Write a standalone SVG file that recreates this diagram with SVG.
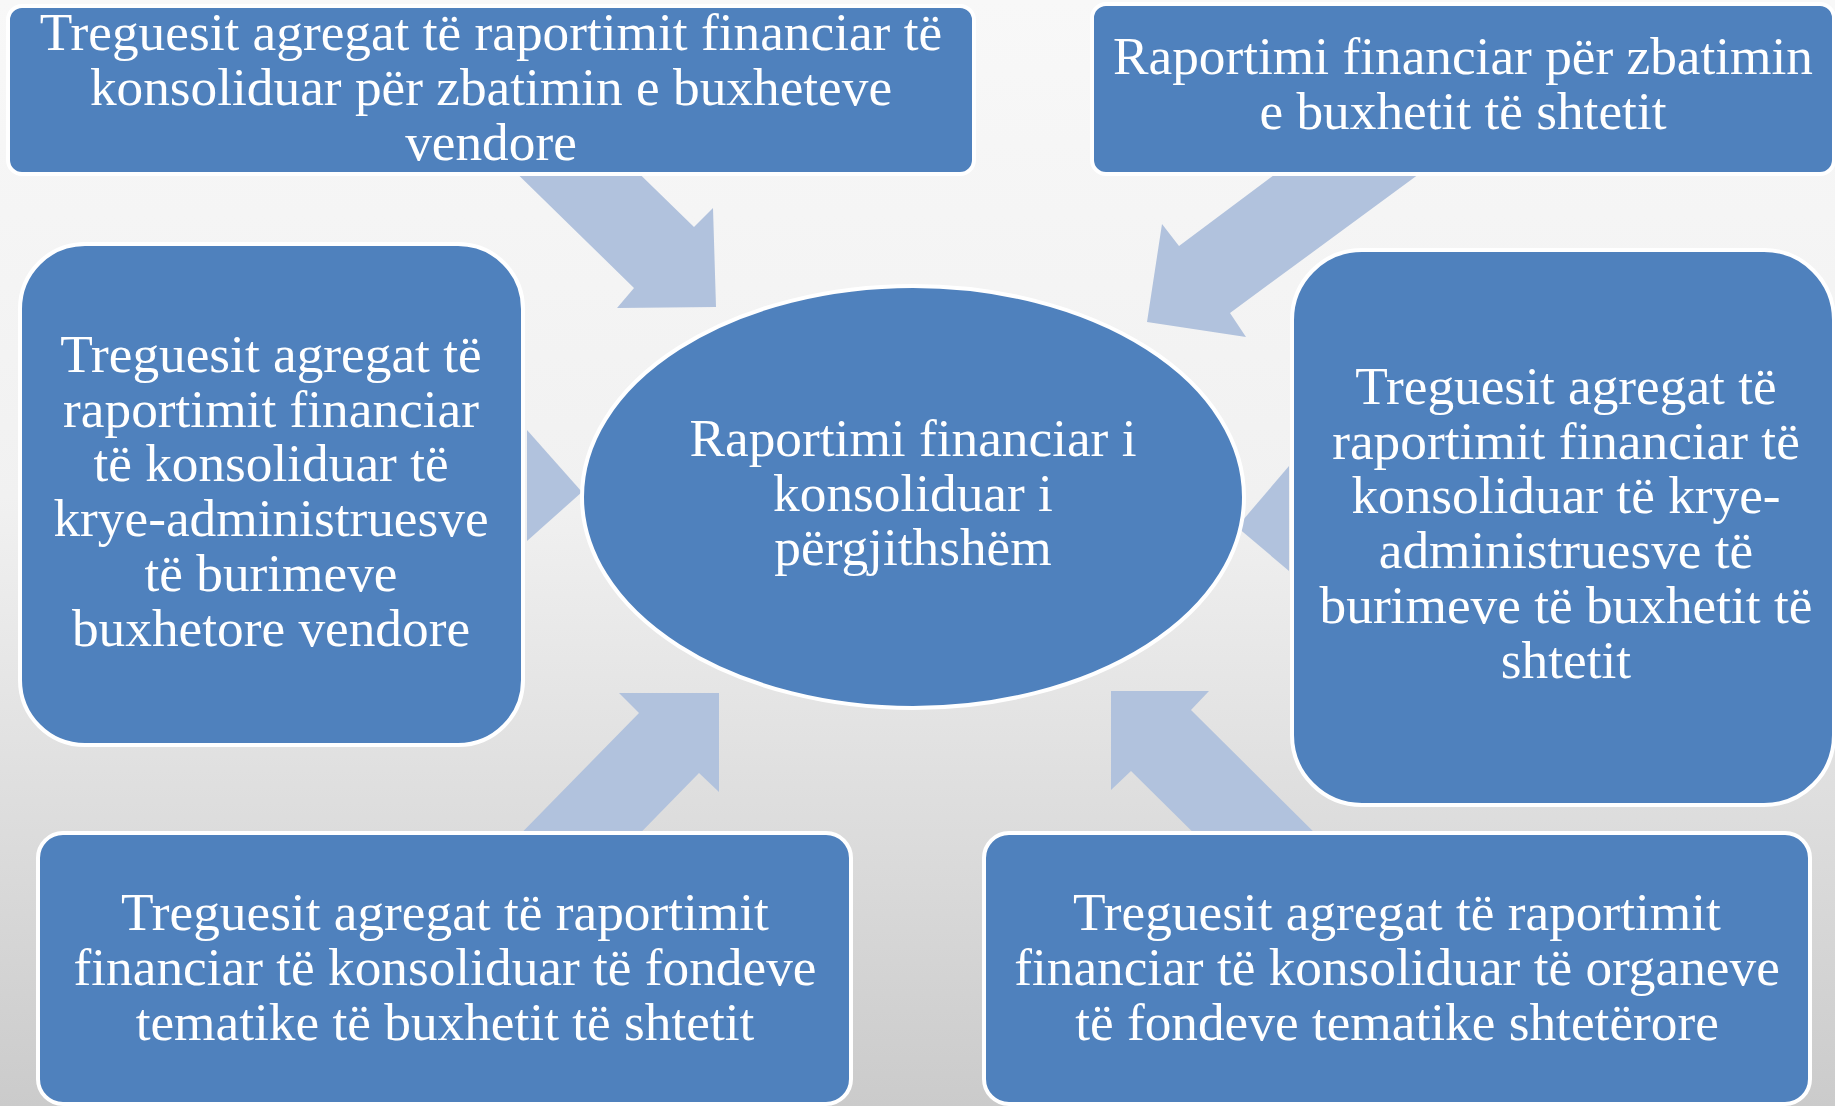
<svg xmlns="http://www.w3.org/2000/svg" width="1835" height="1106" viewBox="0 0 1835 1106">
<defs>
<linearGradient id="bg" x1="0" y1="0" x2="0" y2="1">
<stop offset="0" stop-color="#f8f8f8"/>
<stop offset="0.45" stop-color="#f1f1f1"/>
<stop offset="1" stop-color="#cbcbcb"/>
</linearGradient>
<style>
.node{fill:#4f81bd;stroke:#ffffff;stroke-width:4}
.arr{fill:#b1c2dd;stroke:none}
.t{font-family:"Liberation Serif","Times New Roman",serif;font-size:53.3px;fill:#ffffff;text-anchor:middle}
</style>
</defs>
<rect x="0" y="0" width="1835" height="1106" fill="url(#bg)"/>
<g id="connectors">
<polygon class="arr" points="493,150 615,150 694,227 713,208 716,307 617,308 634,288"/>
<polygon class="arr" points="1309,149 1453,149 1230,313 1246,337 1147,322 1162,224 1179,246"/>
<polygon class="arr" points="527,430 582,492 527,541"/>
<polygon class="arr" points="1289,466 1237,527 1289,571"/>
<polygon class="arr" points="719,693 619,693 639,713 495,860 614,860 699,773 719,792"/>
<polygon class="arr" points="1111,691 1209,691 1191,710 1342,860 1221,860 1131,771 1111,790"/>
</g>
<g id="node-top-left">
<rect class="node" x="8" y="6" width="966" height="168" rx="14"/>
<text class="t" x="491" y="50">Treguesit agregat të raportimit financiar të</text>
<text class="t" x="491" y="105">konsoliduar për zbatimin e buxheteve</text>
<text class="t" x="491" y="160">vendore</text>
</g>
<g id="node-top-right">
<rect class="node" x="1092" y="4" width="742" height="170" rx="14"/>
<text class="t" x="1463" y="74">Raportimi financiar për zbatimin</text>
<text class="t" x="1463" y="129">e buxhetit të shtetit</text>
</g>
<g id="node-left">
<rect class="node" x="20" y="244" width="503" height="501" rx="65"/>
<text class="t" x="271" y="372">Treguesit agregat të</text>
<text class="t" x="271" y="427">raportimit financiar</text>
<text class="t" x="271" y="481">të konsoliduar të</text>
<text class="t" x="271" y="536">krye-administruesve</text>
<text class="t" x="271" y="591">të burimeve</text>
<text class="t" x="271" y="646">buxhetore vendore</text>
</g>
<g id="node-center">
<ellipse class="node" cx="913" cy="497" rx="331" ry="211"/>
<text class="t" x="913" y="456">Raportimi financiar i</text>
<text class="t" x="913" y="511">konsoliduar i</text>
<text class="t" x="913" y="565">përgjithshëm</text>
</g>
<g id="node-right">
<rect class="node" x="1292" y="250" width="542" height="555" rx="70"/>
<text class="t" x="1566" y="404">Treguesit agregat të</text>
<text class="t" x="1566" y="459">raportimit financiar të</text>
<text class="t" x="1566" y="513">konsoliduar të krye-</text>
<text class="t" x="1566" y="568">administruesve të</text>
<text class="t" x="1566" y="623">burimeve të buxhetit të</text>
<text class="t" x="1566" y="678">shtetit</text>
</g>
<g id="node-bottom-left">
<rect class="node" x="38" y="833" width="813" height="271" rx="25"/>
<text class="t" x="445" y="930">Treguesit agregat të raportimit</text>
<text class="t" x="445" y="985">financiar të konsoliduar të fondeve</text>
<text class="t" x="445" y="1040">tematike të buxhetit të shtetit</text>
</g>
<g id="node-bottom-right">
<rect class="node" x="984" y="833" width="826" height="271" rx="25"/>
<text class="t" x="1397" y="930">Treguesit agregat të raportimit</text>
<text class="t" x="1397" y="985">financiar të konsoliduar të organeve</text>
<text class="t" x="1397" y="1040">të fondeve tematike shtetërore</text>
</g>
</svg>
